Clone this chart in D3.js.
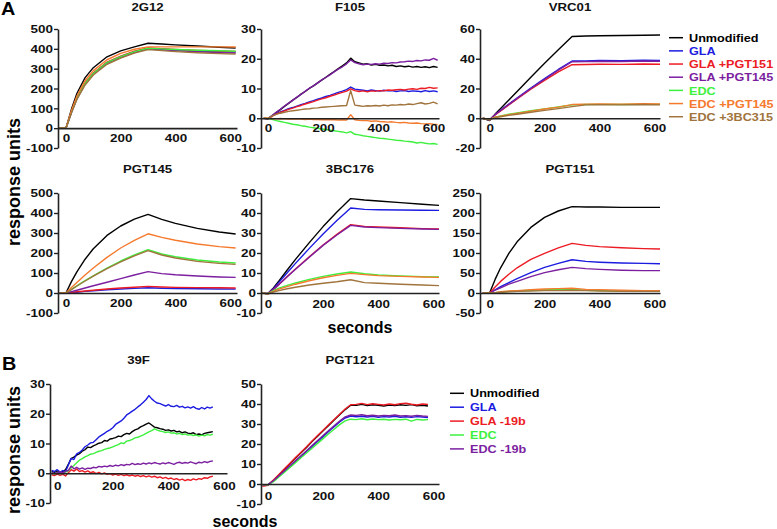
<!DOCTYPE html>
<meta charset="utf-8">
<script src="https://cdn.jsdelivr.net/npm/d3@7"></script>
<style>
  body { margin: 0; background: #fff; }
  text { font-family: "Liberation Sans", Arial, sans-serif; font-weight: bold; }
</style>
<svg id="chart" width="777" height="529"></svg>
<script>
  // legend entries, panel A and panel B
  const seriesA = ["Unmodified", "GLA", "GLA +PGT151", "GLA +PGT145", "EDC", "EDC +PGT145", "EDC +3BC315"]
  const colorsA = ["#000000", "#1c1ce0", "#ec1c24", "#7b1fa0", "#3ef03e", "#f57a2e", "#a0743c"]
  const seriesB = ["Unmodified", "GLA", "GLA -19b", "EDC", "EDC -19b"]
  const colorsB = ["#000000", "#1c1ce0", "#ec1c24", "#3ef03e", "#7b1fa0"]

  const xTicks = [0, 200, 400, 600]

  // sampling times (seconds)
  const tSmooth = [-25, 0, 20, 40, 70, 100, 150, 200, 250, 300, 350, 400, 480, 560, 620]
  const tF105 = [-15, 0, 15, 30, 45, 60, 75, 90, 105, 120, 135, 150, 165, 180, 195, 210, 225, 240, 255, 270, 285,
    300, 315, 330, 345, 360, 375, 390, 405, 420, 435, 450, 465, 480, 495, 510, 525, 540, 555, 570, 585, 600, 615]
  const t39F = [-20, -10, 0, 10, 20, 30, 40, 50, 60, 70, 80, 90, 100, 110, 120, 130, 140, 150, 160, 170, 180, 190, 200,
    210, 220, 230, 240, 250, 260, 270, 280, 290, 300, 310, 320, 330, 340, 350, 360, 370, 380, 390, 400,
    410, 420, 430, 440, 450, 460, 470, 480, 490, 500, 510, 520, 530, 540, 550, 560]
  const tPGT121 = [-20, 0, 20, 40, 60, 80, 100, 120, 140, 160, 180, 200, 220, 240, 260, 280, 300,
    320, 340, 360, 380, 400, 420, 440, 460, 480, 500, 520, 540, 560, 580]

  // response units, one row per legend entry (legend order)
  const val2G12 = [
    [0, 0, 95, 175, 255, 305, 360, 390, 410, 428, 424, 420, 414, 408, 404],
    [0, 0, 80, 150, 225, 275, 330, 360, 385, 402, 398, 394, 389, 386, 384],
    [0, 0, 82, 152, 228, 278, 333, 363, 388, 405, 401, 397, 392, 389, 387],
    [0, 0, 78, 148, 222, 272, 327, 357, 382, 400, 395, 391, 385, 381, 379],
    [0, 0, 80, 150, 225, 276, 331, 361, 386, 403, 400, 397, 393, 390, 388],
    [0, 0, 88, 162, 240, 290, 345, 377, 398, 410, 410, 410, 410, 410, 409],
    [0, 0, 76, 145, 218, 268, 322, 353, 378, 396, 391, 386, 380, 376, 374]
  ]
  const valF105 = [
    [0.1, -0.2, 0.8, 1.9, 2.9, 4.0, 5.0, 6.1, 7.0, 8.1, 9.0, 10.0, 10.9, 11.9, 12.8, 13.8, 14.8, 15.7, 16.7, 17.6, 18.6,
      20.2, 19.0, 18.6, 18.2, 18.3, 17.9, 18.1, 17.8, 17.9, 17.6, 17.8, 17.4, 17.6, 17.3, 17.5, 17.2, 17.4, 17.1, 17.3, 17.0, 17.4, 17.1],
    [0, -0.2, 0.8, 1.5, 2.1, 2.6, 3.2, 3.6, 4.1, 4.6, 5.0, 5.5, 5.9, 6.4, 6.8, 7.3, 7.7, 8.2, 8.7, 9.1, 9.6,
      10.5, 9.8, 9.6, 9.4, 9.2, 9.5, 9.3, 9.1, 9.4, 9.2, 9.3, 9.0, 9.2, 9.3, 9.0, 9.2, 9.1, 8.9, 9.3, 9.0, 9.2, 8.9],
    [0, -0.1, 0.7, 1.4, 2.0, 2.5, 3.0, 3.4, 3.9, 4.3, 4.8, 5.2, 5.6, 6.1, 6.5, 6.9, 7.4, 7.8, 8.3, 8.7, 9.1,
      9.9, 9.3, 9.0, 9.2, 8.9, 9.2, 9.1, 9.3, 9.2, 9.5, 9.4, 9.6, 9.7, 9.5, 9.8, 9.9, 9.7, 10.1, 10.0, 10.4, 10.1, 10.2],
    [0, -0.1, 0.9, 2.0, 3.0, 4.1, 5.1, 6.0, 7.1, 8.0, 9.1, 10.1, 10.9, 11.8, 12.9, 13.7, 14.6, 15.6, 16.5, 17.3, 18.3,
      19.6, 18.7, 18.3, 18.0, 18.2, 18.1, 18.3, 18.2, 18.5, 18.4, 18.7, 18.6, 18.9, 19.0, 19.2, 19.1, 19.4, 19.3, 19.6, 19.5, 20.1, 19.5],
    [0, 0, -0.4, -0.8, -1.1, -1.4, -1.7, -2.0, -2.2, -2.5, -2.7, -3.0, -3.2, -3.4, -3.6, -3.8, -4.0, -4.2, -4.4, -4.6, -4.9,
      -4.5, -5.4, -5.6, -5.9, -6.1, -6.3, -6.5, -6.7, -6.8, -7.0, -7.2, -7.4, -7.5, -7.7, -7.8, -8.0, -8.3, -8.1, -8.4, -8.6, -8.5, -8.8],
    [0.1, 0, -0.1, -0.2, -0.1, -0.2, -0.3, -0.2, -0.3, -0.3, -0.4, -0.3, -0.4, -0.4, -0.5, -0.4, -0.5, -0.5, -0.6, -0.5, -0.6,
      1.2, -0.5, -0.7, -0.8, -0.8, -1.0, -0.9, -1.1, -1.2, -1.3, -1.2, -1.4, -1.5, -1.4, -1.6, -1.7, -1.6, -1.8, -1.9, -1.8, -2.0, -2.1],
    [0, -0.2, 0.8, 1.3, 1.7, 2.0, 2.3, 2.5, 2.7, 2.9, 3.1, 3.2, 3.4, 3.5, 3.7, 3.8, 3.9, 4.0, 4.1, 4.2, 4.3,
      9.3, 4.4, 4.2, 4.0, 4.2, 4.1, 4.3, 4.1, 4.4, 4.2, 4.5, 4.4, 4.6, 4.5, 4.8, 4.6, 4.9, 5.2, 4.8, 5.0, 5.4, 4.8]
  ]
  const valVRC01 = [
    [0, -1.5, 2.8, 6.6, 12.3, 18.0, 27.5, 37.0, 46.0, 55.0, 55.3, 55.5, 55.6, 55.8, 56.0],
    [0, -1.0, 2.5, 5.3, 9.5, 13.6, 20.3, 26.6, 32.8, 38.5, 38.6, 38.8, 38.7, 39.0, 38.8],
    [0, -1.0, 2.3, 5.0, 9.0, 13.0, 19.5, 25.5, 31.2, 36.0, 36.1, 36.3, 36.2, 36.5, 36.3],
    [0, -1.0, 2.4, 5.2, 9.3, 13.4, 20.0, 26.2, 32.3, 38.0, 38.1, 38.3, 38.2, 38.5, 38.3],
    [0, -0.8, 0.8, 1.6, 2.7, 3.6, 5.0, 6.3, 7.6, 9.0, 9.2, 9.3, 9.2, 9.4, 9.3],
    [0, -0.8, 0.7, 1.4, 2.4, 3.3, 4.8, 6.2, 7.5, 9.2, 9.5, 9.6, 9.5, 9.7, 9.6],
    [0, -1.0, 0.4, 1.0, 1.9, 2.7, 4.0, 5.3, 6.5, 7.8, 9.0, 9.1, 9.0, 9.2, 9.0]
  ]
  const valPGT145 = [
    [0, 0, 57, 106, 169, 221, 288, 335, 369, 393, 368, 348, 323, 305, 295],
    [0, 0, 2, 4, 8, 11, 16, 20, 23, 26, 24, 22, 21, 20, 20],
    [0, 0, 3, 6, 10, 14, 20, 25, 29, 33, 30, 28, 27, 26, 25],
    [0, 0, 7, 14, 25, 36, 54, 72, 90, 107, 97, 91, 85, 80, 78],
    [0, 0, 18, 36, 62, 86, 125, 160, 190, 217, 195, 181, 165, 155, 150],
    [0, 0, 27, 53, 90, 125, 178, 225, 263, 296, 278, 264, 245, 232, 225],
    [0, 0, 17, 35, 60, 84, 122, 156, 186, 212, 190, 175, 158, 148, 143]
  ]
  const val3BC176 = [
    [0, -0.3, 2.5, 6.0, 11.5, 16.8, 25.2, 33.2, 40.5, 47.2, 46.5, 46.0, 45.2, 44.4, 43.8],
    [0, -0.3, 2.2, 5.3, 10.1, 14.8, 22.3, 29.5, 36.2, 42.5, 41.8, 41.6, 41.5, 41.4, 41.3],
    [0, -0.3, 1.8, 4.3, 8.2, 12.0, 18.1, 24.0, 29.3, 34.2, 33.3, 33.0, 32.6, 32.2, 32.0],
    [0, -0.3, 1.8, 4.2, 8.1, 11.9, 17.9, 23.8, 29.0, 33.8, 33.0, 32.7, 32.3, 32.0, 31.8],
    [0, -0.3, 1.2, 2.4, 3.8, 5.0, 6.8, 8.3, 9.5, 10.5, 9.6, 9.0, 8.5, 8.2, 8.0],
    [0, -0.3, 0.8, 1.9, 3.2, 4.4, 6.1, 7.6, 8.8, 9.8, 9.2, 8.7, 8.3, 8.0, 7.8],
    [0, -0.5, 0.5, 1.2, 2.1, 2.9, 4.0, 4.9, 5.6, 6.6, 5.2, 4.9, 4.4, 4.0, 3.7]
  ]
  const valPGT151 = [
    [0, 0, 34, 63, 99, 128, 164, 189, 205, 216, 215, 215, 214, 214, 214],
    [0, 0, 8, 16, 26, 36, 51, 64, 74, 83, 79, 77, 75, 74, 73],
    [0, 0, 15, 29, 47, 63, 84, 99, 113, 124, 119, 116, 113, 111, 110],
    [0, 0, 7, 13, 22, 29, 41, 51, 58, 64, 61, 59, 57, 56, 56],
    [0, 0, 1, 2, 4, 5, 7, 8, 9, 9, 7, 6, 5, 5, 5],
    [0, 0, 1, 3, 5, 6, 8, 10, 11, 12, 9, 8, 7, 6, 6],
    [0, 0, 1, 2, 3, 4, 5, 6, 6, 7, 6, 5, 4, 4, 4]
  ]
  const val39F = [
    [0.6, 0.2, 0.8, 0.3, 0.5, 1.2, 3.0, 4.9, 5.4, 6.1, 6.6, 7.4, 7.9,
      8.8, 8.6, 9.2, 9.6, 10.1, 10.3, 11.0, 10.8, 11.5, 11.7,
      12.0, 12.5, 12.3, 13.0, 13.4, 13.2, 14.0, 14.6, 14.9, 15.6,
      16.0, 16.5, 16.9, 16.2, 15.5, 15.3, 15.0, 14.8, 14.4, 14.6,
      14.2, 14.4, 13.9, 14.1, 13.6, 13.9, 13.5, 13.3, 13.6, 13.0,
      13.2, 12.9, 13.4, 13.6, 13.8, 14.0],
    [1.0, 0.6, 1.2, 0.4, 0.9, 0.5, 2.8, 5.0, 4.6, 6.5, 7.0, 7.8, 8.9,
      9.5, 10.2, 10.4, 11.3, 12.2, 12.8, 13.4, 14.1, 14.6, 15.3,
      16.4, 17.0, 17.6, 18.5, 19.6, 20.2, 20.9, 21.5, 22.3, 23.0,
      23.9, 24.8, 26.1, 25.0, 24.2, 23.6, 23.4, 23.0, 22.6, 23.1,
      22.5, 22.4, 22.8, 22.2, 22.5, 22.0, 22.3, 21.9, 22.4, 21.8,
      21.5, 22.1, 21.6, 22.2, 21.9, 22.3],
    [-0.5, -0.8, -0.3, -0.7, -0.4, -0.9, 0.2, 1.2, 0.7, 1.4, 0.6, 0.9, 0.4,
      0.8, 0.2, 0.5, -0.1, 0.3, -0.2, 0.1, -0.4, -0.1, -0.6,
      -0.3, -0.7, -0.4, -0.8, -0.5, -0.9, -0.6, -1.0, -0.7, -1.1,
      -0.8, -1.2, -0.9, -1.3, -1.0, -1.5, -1.2, -1.7, -1.4, -1.9,
      -1.6, -2.1, -1.8, -2.3, -2.0, -2.5, -2.1, -2.4, -1.9, -2.2,
      -1.8, -2.0, -1.5, -1.7, -1.2, -1.0],
    [0.2, -0.2, 0.3, -0.1, 0.1, 0.4, 0.8, 1.8, 2.6, 3.5, 4.4, 4.9, 5.5,
      5.9, 6.4, 6.6, 7.0, 7.4, 7.6, 8.0, 8.3, 8.5, 8.9,
      9.3, 9.6, 10.2, 10.0, 10.8, 11.0, 11.4, 11.9, 12.1, 12.5,
      12.9, 13.4, 13.9, 14.3, 14.9, 14.5, 14.2, 14.0, 13.7, 13.9,
      13.5, 13.6, 13.2, 13.4, 13.0, 13.2, 12.8, 13.0, 12.7, 12.9,
      12.5, 12.8, 12.6, 13.0, 12.8, 13.1],
    [0.3, -0.1, 0.2, 0.5, 0.1, 0.6, 1.0, 2.4, 1.5, 2.0, 1.4, 1.8, 1.3,
      1.7, 1.6, 2.0, 1.8, 2.3, 2.1, 2.4, 2.2, 2.6, 2.3,
      2.7, 2.5, 2.9, 2.6, 3.0, 2.8, 3.3, 2.9, 3.2, 3.0,
      3.4, 3.1, 3.5, 3.2, 3.6, 3.3, 3.1, 3.5, 3.2, 3.6,
      3.3, 3.0, 3.5, 3.7, 3.3, 3.6, 3.4, 3.8, 3.5, 3.2,
      3.7, 3.5, 3.9, 3.6, 4.0, 4.1]
  ]
  const valPGT121 = [
    [-0.3, -0.5, 1.8, 4.5, 7.4, 10.1, 12.9, 15.6, 18.3, 21.2, 23.9, 26.6, 29.3, 32.0, 34.6, 37.2, 39.4,
      39.3, 39.8, 39.2, 39.6, 39.4, 39.0, 39.5, 39.2, 39.6, 39.3, 39.7, 39.1, 39.4, 39.0],
    [-0.3, -0.4, 1.5, 3.9, 6.4, 8.8, 11.3, 13.8, 16.3, 18.8, 21.3, 23.7, 26.2, 28.6, 31.0, 33.0, 34.0,
      33.6, 33.9, 33.5, 33.8, 33.4, 33.7, 33.5, 33.9, 33.4, 33.6, 33.3, 33.7, 33.5, 33.2],
    [-1.2, -0.6, 2.0, 4.8, 7.6, 10.4, 13.2, 15.9, 18.6, 21.5, 24.2, 26.9, 29.6, 32.3, 34.9, 37.5, 39.6,
      39.8, 40.3, 39.7, 40.1, 39.8, 39.5, 40.0, 39.6, 40.2, 40.4, 39.9, 39.5, 40.0, 39.8],
    [-0.3, -0.5, 1.2, 3.5, 5.9, 8.3, 10.7, 13.1, 15.5, 17.9, 20.3, 22.7, 25.1, 27.4, 29.7, 31.6, 32.4,
      32.2, 32.6, 32.1, 32.5, 32.2, 32.4, 32.0, 32.3, 32.1, 32.4, 31.4, 32.3, 32.0, 32.2],
    [-0.3, -0.4, 1.6, 4.1, 6.6, 9.1, 11.6, 14.1, 16.6, 19.2, 21.7, 24.2, 26.7, 29.1, 31.5, 33.6, 34.5,
      34.3, 34.6, 34.1, 34.4, 34.0, 34.3, 34.1, 34.5, 34.0, 34.2, 33.9, 34.3, 34.0, 33.8]
  ]

  const yT500 = [-100, 0, 100, 200, 300, 400, 500]
  const yT30 = [-10, 0, 10, 20, 30]
  const yT60 = [-20, 0, 20, 40, 60]
  const yT50 = [-10, 0, 10, 20, 30, 40, 50]
  const yT250 = [-50, 0, 50, 100, 150, 200, 250]

  const panels = [
    { title: "2G12", t: tSmooth, v: val2G12, c: colorsA, xDom: [-29, 625], xPx: [58, 237], yDom: [-100, 500], yPx: [148, 29], yT: yT500, ty: 11, pad: 6 },
    { title: "F105", t: tF105, v: valF105, c: colorsA, xDom: [-25, 620], xPx: [261, 439], yDom: [-10, 30], yPx: [148, 29], yT: yT30, ty: 11, pad: 6 },
    { title: "VRC01", t: tSmooth, v: valVRC01, c: colorsA, xDom: [-35, 620], xPx: [480, 660], yDom: [-20, 60], yPx: [148, 29], yT: yT60, ty: 11, pad: 6 },
    { title: "PGT145", t: tSmooth, v: valPGT145, c: colorsA, xDom: [-29, 625], xPx: [58, 237], yDom: [-100, 500], yPx: [313, 193], yT: yT500, ty: 173, pad: 6 },
    { title: "3BC176", t: tSmooth, v: val3BC176, c: colorsA, xDom: [-25, 620], xPx: [261, 439], yDom: [-10, 50], yPx: [313, 193], yT: yT50, ty: 173, pad: 7 },
    { title: "PGT151", t: tSmooth, v: valPGT151, c: colorsA, xDom: [-35, 620], xPx: [480, 660], yDom: [-50, 250], yPx: [313, 193], yT: yT250, ty: 173, pad: 7 },
    { title: "39F", t: t39F, v: val39F, c: colorsB, xDom: [-26, 611], xPx: [50, 227], yDom: [-10, 30], yPx: [503, 384], yT: yT30, ty: 364, pad: 9 },
    { title: "PGT121", t: tPGT121, v: valPGT121, c: colorsB, xDom: [-25, 620], xPx: [261, 439], yDom: [-10, 50], yPx: [504, 384], yT: yT50, ty: 364, pad: 8 }
  ]

  const svg = d3.select("#chart")

  // the figure is a bit wider than tall, so text is stretched sideways
  function stretch(sel, s) {
    sel.each(function () {
      const t = d3.select(this)
      const x = +t.attr("x") || 0
      const y = +t.attr("y") || 0
      t.attr("transform", `translate(${x},${y}) scale(${s},1)`).attr("x", 0).attr("y", 0)
    })
  }

  // plain hyphen for negatives, like the original
  const plain = d => String(d)

  panels.forEach(p => {
    const x = d3.scaleLinear().domain(p.xDom).range(p.xPx)
    const y = d3.scaleLinear().domain(p.yDom).range(p.yPx)
    const g = svg.append("g")

    const line = d3.line().x((d, i) => x(p.t[i])).y(d => y(d))
    p.v.forEach((vals, k) => {
      g.append("path")
        .attr("d", line(vals))
        .attr("fill", "none")
        .attr("stroke", p.c[k])
        .attr("stroke-width", 1.4)
        .attr("stroke-linejoin", "round")
    })

    const yAxis = g.append("g")
      .attr("transform", `translate(${p.xPx[0]},0)`)
      .call(d3.axisLeft(y).tickValues(p.yT).tickFormat(plain).tickSize(4).tickPadding(1).tickSizeOuter(0))
    const xAxis = g.append("g")
      .attr("transform", `translate(0,${y(0)})`)
      .call(d3.axisBottom(x).tickValues(xTicks).tickFormat(plain).tickSize(0).tickPadding(p.pad).tickSizeOuter(0))

    ;[yAxis, xAxis].forEach(a => {
      a.attr("font-family", null).attr("font-size", 11.5)
      a.select(".domain").attr("stroke", "#222").attr("stroke-width", 1.6)
      a.selectAll(".tick line").attr("stroke", "#222").attr("stroke-width", 1.4)
      a.selectAll("text").attr("fill", "#111")
      stretch(a.selectAll("text"), 1.17)
    })

    g.append("text")
      .attr("x", (p.xPx[0] + p.xPx[1]) / 2)
      .attr("y", p.ty)
      .attr("text-anchor", "middle")
      .attr("font-size", 11)
      .attr("fill", "#111")
      .text(p.title)
      .call(stretch, 1.2)
  })

  // panel letters
  svg.append("text").attr("x", 1).attr("y", 15).attr("font-size", 18).text("A").call(stretch, 1.1)
  svg.append("text").attr("x", 2).attr("y", 370).attr("font-size", 18).text("B").call(stretch, 1.1)

  // axis titles
  ;[182, 450].forEach(cy => {
    svg.append("text")
      .attr("transform", `translate(20,${cy}) rotate(-90)`)
      .attr("text-anchor", "middle")
      .attr("font-size", 18)
      .text("response units")
  })
  svg.append("text").attr("x", 360).attr("y", 333).attr("text-anchor", "middle").attr("font-size", 16).text("seconds")
  svg.append("text").attr("x", 245).attr("y", 527).attr("text-anchor", "middle").attr("font-size", 16).text("seconds")

  // legends
  function legend(names, colors, x0, y0, step) {
    const lg = svg.append("g")
    names.forEach((n, i) => {
      const cy = y0 + i * step
      lg.append("line").attr("x1", x0).attr("x2", x0 + 14).attr("y1", cy).attr("y2", cy)
        .attr("stroke", colors[i]).attr("stroke-width", 1.5)
      lg.append("text").attr("x", x0 + 20).attr("y", cy).attr("dy", "0.36em")
        .attr("font-size", 11.5).attr("fill", colors[i]).text(n)
        .call(stretch, 1.1)
    })
  }
  legend(seriesA, colorsA, 669, 37.7, 13.17)
  legend(seriesB, colorsB, 450, 393.3, 13.9)
</script>
